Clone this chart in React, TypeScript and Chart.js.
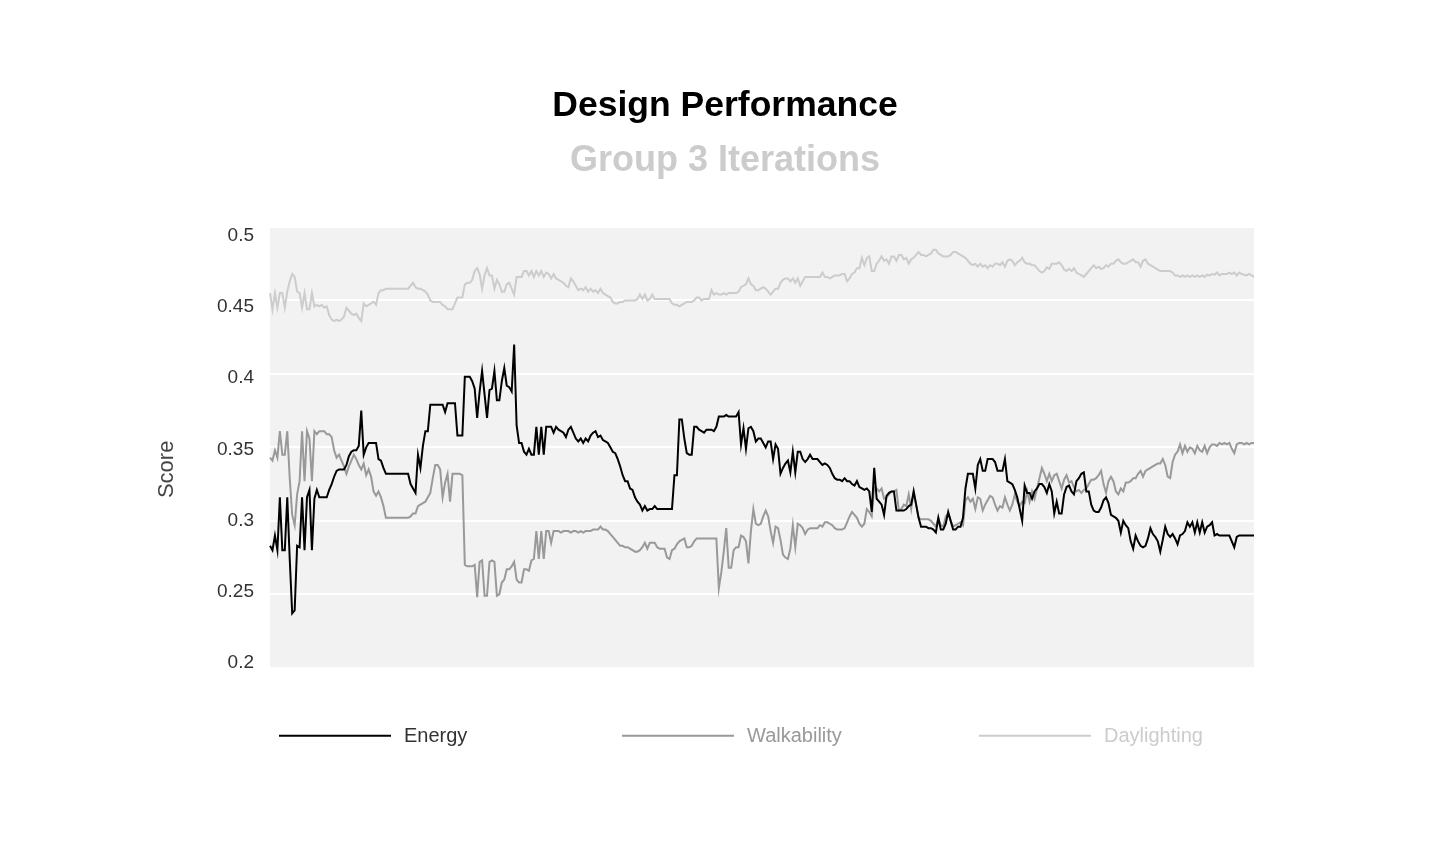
import { useEffect, useRef } from "react";
import { Chart, registerables } from "chart.js";

Chart.register(...registerables);

const chartTitle = "Design Performance";
const chartSubtitle = "Group 3 Iterations";
const yAxisTitle = "Score";
const seriesNames = ["Energy", "Walkability", "Daylighting"];

const energy = [
  0.283, 0.280, 0.290, 0.280, 0.316, 0.280, 0.280, 0.316, 0.274, 0.237,
  0.239, 0.283, 0.282, 0.316, 0.280, 0.316, 0.321, 0.280, 0.315, 0.321,
  0.316, 0.316, 0.316, 0.316, 0.321, 0.325, 0.330, 0.334, 0.335, 0.335,
  0.335, 0.338, 0.344, 0.347, 0.348, 0.348, 0.351, 0.375, 0.345, 0.350,
  0.353, 0.353, 0.353, 0.353, 0.342, 0.341, 0.336, 0.332, 0.332, 0.332,
  0.332, 0.332, 0.332, 0.332, 0.332, 0.332, 0.332, 0.325, 0.322, 0.319,
  0.345, 0.336, 0.351, 0.361, 0.361, 0.379, 0.379, 0.379, 0.379, 0.379,
  0.379, 0.374, 0.380, 0.380, 0.380, 0.380, 0.358, 0.358, 0.358, 0.398,
  0.398, 0.398, 0.395, 0.390, 0.370, 0.388, 0.402, 0.386, 0.370, 0.389,
  0.390, 0.402, 0.382, 0.382, 0.395, 0.404, 0.392, 0.391, 0.388, 0.420,
  0.365, 0.353, 0.353, 0.347, 0.345, 0.349, 0.345, 0.345, 0.364, 0.345,
  0.364, 0.345, 0.364, 0.364, 0.364, 0.360, 0.364, 0.362, 0.361, 0.360,
  0.357, 0.362, 0.364, 0.360, 0.356, 0.354, 0.356, 0.353, 0.356, 0.354,
  0.358, 0.360, 0.361, 0.357, 0.358, 0.355, 0.354, 0.353, 0.350, 0.347,
  0.346, 0.342, 0.337, 0.331, 0.327, 0.327, 0.322, 0.321, 0.316, 0.313,
  0.311, 0.307, 0.310, 0.307, 0.308, 0.308, 0.310, 0.308, 0.308, 0.308,
  0.308, 0.308, 0.308, 0.308, 0.331, 0.331, 0.369, 0.369, 0.356, 0.346,
  0.345, 0.345, 0.364, 0.364, 0.362, 0.361, 0.360, 0.362, 0.362, 0.362,
  0.361, 0.364, 0.371, 0.371, 0.371, 0.372, 0.371, 0.371, 0.371, 0.371,
  0.374, 0.352, 0.363, 0.349, 0.363, 0.364, 0.361, 0.354, 0.356, 0.356,
  0.353, 0.350, 0.354, 0.354, 0.342, 0.352, 0.349, 0.332, 0.336, 0.339,
  0.341, 0.333, 0.347, 0.333, 0.347, 0.347, 0.342, 0.340, 0.342, 0.345,
  0.342, 0.342, 0.342, 0.340, 0.338, 0.339, 0.338, 0.336, 0.332, 0.329,
  0.328, 0.328, 0.327, 0.329, 0.327, 0.327, 0.325, 0.324, 0.327, 0.323,
  0.322, 0.321, 0.322, 0.320, 0.306, 0.336, 0.315, 0.313, 0.311, 0.304,
  0.317, 0.319, 0.320, 0.320, 0.307, 0.307, 0.307, 0.307, 0.308, 0.310,
  0.311, 0.320, 0.311, 0.302, 0.296, 0.296, 0.296, 0.295, 0.295, 0.294,
  0.292, 0.302, 0.294, 0.294, 0.298, 0.306, 0.300, 0.294, 0.294, 0.296,
  0.296, 0.302, 0.322, 0.332, 0.332, 0.332, 0.322, 0.338, 0.342, 0.334,
  0.334, 0.342, 0.342, 0.342, 0.340, 0.334, 0.334, 0.334, 0.342, 0.327,
  0.326, 0.325, 0.321, 0.316, 0.308, 0.300, 0.324, 0.319, 0.319, 0.315,
  0.320, 0.322, 0.325, 0.325, 0.323, 0.319, 0.325, 0.320, 0.305, 0.313,
  0.305, 0.305, 0.318, 0.323, 0.324, 0.320, 0.318, 0.327, 0.329, 0.332,
  0.333, 0.320, 0.320, 0.311, 0.307, 0.306, 0.306, 0.309, 0.314, 0.316,
  0.312, 0.304, 0.303, 0.302, 0.300, 0.292, 0.300, 0.297, 0.295, 0.286,
  0.281, 0.290, 0.286, 0.283, 0.282, 0.283, 0.288, 0.295, 0.291, 0.289,
  0.286, 0.279, 0.287, 0.296, 0.291, 0.289, 0.291, 0.288, 0.284, 0.290,
  0.291, 0.293, 0.299, 0.296, 0.299, 0.292, 0.299, 0.292, 0.299, 0.292,
  0.296, 0.297, 0.299, 0.290, 0.291, 0.290, 0.290, 0.290, 0.290, 0.290,
  0.286, 0.282, 0.289, 0.290, 0.290, 0.290, 0.290, 0.290, 0.290, 0.290,
];

const walkability = [
  0.343, 0.341, 0.348, 0.343, 0.361, 0.345, 0.345, 0.361, 0.329, 0.304,
  0.297, 0.318, 0.327, 0.361, 0.327, 0.361, 0.356, 0.327, 0.361, 0.359,
  0.361, 0.361, 0.361, 0.359, 0.359, 0.357, 0.348, 0.343, 0.345, 0.341,
  0.337, 0.332, 0.337, 0.341, 0.345, 0.342, 0.338, 0.335, 0.339, 0.331,
  0.335, 0.330, 0.320, 0.317, 0.320, 0.316, 0.310, 0.302, 0.302, 0.302,
  0.302, 0.302, 0.302, 0.302, 0.302, 0.302, 0.302, 0.303, 0.305, 0.305,
  0.310, 0.311, 0.312, 0.313, 0.316, 0.319, 0.329, 0.338, 0.338, 0.335,
  0.316, 0.326, 0.332, 0.313, 0.332, 0.332, 0.332, 0.332, 0.331, 0.270,
  0.269, 0.269, 0.269, 0.270, 0.248, 0.272, 0.273, 0.249, 0.249, 0.272,
  0.273, 0.272, 0.249, 0.250, 0.258, 0.260, 0.267, 0.267, 0.269, 0.272,
  0.260, 0.258, 0.258, 0.267, 0.267, 0.266, 0.273, 0.274, 0.293, 0.274,
  0.293, 0.274, 0.293, 0.293, 0.285, 0.293, 0.293, 0.293, 0.292, 0.293,
  0.293, 0.293, 0.292, 0.293, 0.293, 0.292, 0.293, 0.292, 0.293, 0.293,
  0.293, 0.294, 0.294, 0.294, 0.296, 0.294, 0.294, 0.293, 0.291, 0.289,
  0.287, 0.285, 0.283, 0.283, 0.282, 0.282, 0.281, 0.280, 0.279, 0.279,
  0.280, 0.282, 0.285, 0.281, 0.285, 0.285, 0.285, 0.282, 0.281, 0.281,
  0.281, 0.275, 0.274, 0.280, 0.281, 0.284, 0.286, 0.287, 0.288, 0.282,
  0.282, 0.283, 0.286, 0.288, 0.288, 0.288, 0.288, 0.288, 0.288, 0.288,
  0.288, 0.288, 0.254, 0.265, 0.279, 0.295, 0.268, 0.268, 0.280, 0.282,
  0.282, 0.290, 0.289, 0.286, 0.271, 0.293, 0.308, 0.298, 0.297, 0.298,
  0.303, 0.307, 0.303, 0.293, 0.285, 0.296, 0.295, 0.287, 0.277, 0.275,
  0.274, 0.281, 0.297, 0.282, 0.298, 0.297, 0.295, 0.291, 0.294, 0.295,
  0.295, 0.295, 0.295, 0.297, 0.296, 0.299, 0.299, 0.298, 0.297, 0.295,
  0.294, 0.294, 0.294, 0.295, 0.299, 0.303, 0.306, 0.304, 0.302, 0.298,
  0.296, 0.298, 0.308, 0.306, 0.303, 0.323, 0.322, 0.320, 0.322, 0.315,
  0.316, 0.318, 0.320, 0.320, 0.321, 0.307, 0.308, 0.311, 0.310, 0.318,
  0.308, 0.320, 0.311, 0.302, 0.301, 0.301, 0.301, 0.301, 0.300, 0.298,
  0.296, 0.302, 0.297, 0.296, 0.303, 0.305, 0.300, 0.296, 0.297, 0.298,
  0.299, 0.297, 0.314, 0.316, 0.313, 0.315, 0.308, 0.316, 0.315, 0.307,
  0.311, 0.314, 0.317, 0.316, 0.311, 0.307, 0.310, 0.309, 0.316, 0.311,
  0.307, 0.311, 0.318, 0.313, 0.310, 0.313, 0.312, 0.320, 0.313, 0.320,
  0.315, 0.322, 0.329, 0.336, 0.332, 0.327, 0.332, 0.327, 0.331, 0.332,
  0.327, 0.322, 0.328, 0.331, 0.326, 0.327, 0.323, 0.320, 0.321, 0.319,
  0.321, 0.322, 0.325, 0.328, 0.328, 0.329, 0.331, 0.334, 0.325, 0.319,
  0.327, 0.330, 0.327, 0.320, 0.318, 0.322, 0.320, 0.326, 0.326, 0.327,
  0.329, 0.329, 0.332, 0.334, 0.330, 0.334, 0.335, 0.336, 0.337, 0.338,
  0.339, 0.339, 0.342, 0.338, 0.330, 0.329, 0.340, 0.345, 0.347, 0.352,
  0.346, 0.351, 0.347, 0.350, 0.349, 0.346, 0.351, 0.348, 0.347, 0.351,
  0.346, 0.350, 0.352, 0.352, 0.351, 0.353, 0.352, 0.353, 0.352, 0.353,
  0.349, 0.346, 0.352, 0.353, 0.353, 0.352, 0.353, 0.352, 0.353, 0.353,
];

const daylighting = [
  0.455, 0.444, 0.455, 0.445, 0.455, 0.455, 0.445, 0.456, 0.463, 0.468,
  0.466, 0.456, 0.455, 0.445, 0.455, 0.444, 0.444, 0.455, 0.446, 0.447,
  0.446, 0.447, 0.445, 0.446, 0.440, 0.437, 0.436, 0.437, 0.436, 0.437,
  0.439, 0.445, 0.443, 0.441, 0.440, 0.441, 0.438, 0.436, 0.448, 0.446,
  0.447, 0.448, 0.449, 0.447, 0.455, 0.457, 0.457, 0.458, 0.458, 0.458,
  0.458, 0.458, 0.458, 0.458, 0.458, 0.458, 0.458, 0.460, 0.462, 0.459,
  0.458, 0.458, 0.457, 0.456, 0.454, 0.450, 0.449, 0.449, 0.449, 0.449,
  0.447, 0.446, 0.444, 0.444, 0.444, 0.448, 0.452, 0.452, 0.452, 0.461,
  0.462, 0.462, 0.464, 0.470, 0.472, 0.468, 0.458, 0.467, 0.472, 0.467,
  0.467, 0.458, 0.464, 0.461, 0.456, 0.456, 0.461, 0.462, 0.458, 0.454,
  0.466, 0.466, 0.466, 0.470, 0.470, 0.467, 0.470, 0.466, 0.470, 0.467,
  0.470, 0.466, 0.469, 0.468, 0.465, 0.468, 0.465, 0.464, 0.463, 0.462,
  0.460, 0.459, 0.465, 0.463, 0.460, 0.457, 0.458, 0.457, 0.459, 0.456,
  0.458, 0.456, 0.457, 0.455, 0.458, 0.455, 0.454, 0.453, 0.452, 0.449,
  0.448, 0.448, 0.449, 0.449, 0.450, 0.450, 0.450, 0.450, 0.450, 0.451,
  0.454, 0.451, 0.454, 0.450, 0.451, 0.454, 0.451, 0.451, 0.451, 0.451,
  0.451, 0.451, 0.451, 0.448, 0.447, 0.447, 0.446, 0.447, 0.448, 0.449,
  0.449, 0.449, 0.450, 0.452, 0.452, 0.450, 0.451, 0.451, 0.451, 0.457,
  0.454, 0.455, 0.454, 0.454, 0.455, 0.454, 0.455, 0.455, 0.455, 0.455,
  0.456, 0.459, 0.460, 0.461, 0.465, 0.461, 0.460, 0.457, 0.457, 0.458,
  0.459, 0.458, 0.456, 0.454, 0.456, 0.458, 0.458, 0.462, 0.464, 0.465,
  0.465, 0.463, 0.465, 0.462, 0.465, 0.460, 0.463, 0.466, 0.466, 0.466,
  0.466, 0.466, 0.466, 0.466, 0.469, 0.466, 0.466, 0.465, 0.466, 0.467,
  0.467, 0.467, 0.468, 0.468, 0.463, 0.465, 0.468, 0.469, 0.472, 0.472,
  0.479, 0.474, 0.479, 0.480, 0.470, 0.470, 0.475, 0.477, 0.480, 0.477,
  0.478, 0.475, 0.480, 0.480, 0.477, 0.481, 0.481, 0.478, 0.479, 0.475,
  0.478, 0.479, 0.481, 0.483, 0.481, 0.481, 0.480, 0.481, 0.482, 0.4845,
  0.4845, 0.482, 0.481, 0.480, 0.480, 0.480, 0.481, 0.483, 0.483, 0.482,
  0.481, 0.480, 0.479, 0.477, 0.475, 0.474, 0.475, 0.473, 0.475, 0.473,
  0.474, 0.472, 0.474, 0.473, 0.475, 0.475, 0.474, 0.476, 0.473, 0.477,
  0.478, 0.477, 0.474, 0.476, 0.477, 0.479, 0.476, 0.475, 0.475, 0.474,
  0.474, 0.472, 0.470, 0.469, 0.470, 0.4725, 0.4715, 0.475, 0.475, 0.475,
  0.476, 0.474, 0.471, 0.470, 0.4715, 0.470, 0.472, 0.469, 0.468, 0.467,
  0.466, 0.468, 0.470, 0.472, 0.474, 0.472, 0.473, 0.4715, 0.472, 0.474,
  0.473, 0.475, 0.475, 0.477, 0.478, 0.476, 0.475, 0.475, 0.476, 0.477,
  0.478, 0.476, 0.476, 0.473, 0.477, 0.478, 0.475, 0.474, 0.473, 0.472,
  0.471, 0.470, 0.470, 0.470, 0.470, 0.470, 0.469, 0.467, 0.467, 0.466,
  0.467, 0.466, 0.467, 0.466, 0.467, 0.466, 0.467, 0.466, 0.467, 0.466,
  0.4675, 0.467, 0.468, 0.4675, 0.469, 0.467, 0.468, 0.468, 0.468, 0.469,
  0.468, 0.469, 0.467, 0.469, 0.468, 0.4675, 0.467, 0.468, 0.467, 0.466,
];

const iterations = energy.map((_, i) => String(i + 1));
const yTicks = [0.2, 0.25, 0.3, 0.35, 0.4, 0.45, 0.5];
const yTickLabels = ["0.2", "0.25", "0.3", "0.35", "0.4", "0.45", "0.5"];

const FONT = "'Liberation Sans', Arial, Helvetica, sans-serif";
const lineColors = ["#000000", "#999999", "#cccccc"];
const legendTextColors = ["#333333", "#999999", "#cccccc"];

const plotBackground = {
  id: "plotBackground",
  beforeDraw(chart: any) {
    const { ctx, chartArea: a } = chart;
    ctx.save();
    ctx.fillStyle = "#f2f2f2";
    ctx.fillRect(a.left, a.top, a.right - a.left, a.bottom - a.top);
    ctx.restore();
    // tick labels in the reference sit a little inside the plot band
    const ys = chart.scales.y;
    if (ys && ys.getLabelItems) {
      const items = ys.getLabelItems();
      const inset = 6.5;
      items.forEach((it: any, i: number) => {
        const v = yTicks[i];
        if (v === undefined || !it.options || !it.options.translation) return;
        const frac = (0.5 - v) / 0.3;
        it.options.translation[1] = a.top + 2 + inset + (a.bottom - a.top - 2 * inset) * frac;
      });
    }
  },
};

const columnLegend = {
  id: "columnLegend",
  afterDraw(chart: any) {
    const { ctx, chartArea: a, width } = chart;
    const y = a.bottom + 68;
    const colW = 359;
    const mid = width / 2 + 12;
    const sampleW = 112;
    const gap = 13;
    ctx.save();
    ctx.font = `20px ${FONT}`;
    ctx.textBaseline = "middle";
    ctx.textAlign = "left";
    chart.data.datasets.forEach((ds: any, k: number) => {
      const tw = ctx.measureText(ds.label).width;
      const itemW = sampleW + gap + tw;
      const x0 = Math.round(mid + (k - 1) * colW - itemW / 2);
      ctx.strokeStyle = ds.borderColor;
      ctx.lineWidth = 2;
      ctx.beginPath();
      ctx.moveTo(x0, y);
      ctx.lineTo(x0 + sampleW, y);
      ctx.stroke();
      ctx.fillStyle = legendTextColors[k];
      ctx.fillText(ds.label, x0 + sampleW + gap, y + 1);
    });
    ctx.restore();

    ctx.save();
    ctx.translate(a.left - 103.5, (a.top + a.bottom) / 2 + 22);
    ctx.rotate(-Math.PI / 2);
    ctx.textAlign = "center";
    ctx.textBaseline = "middle";
    ctx.font = `22px ${FONT}`;
    ctx.fillStyle = "#444444";
    ctx.fillText(yAxisTitle, 0, 0);
    ctx.restore();
  },
};

export default function App() {
  const canvasRef = useRef<HTMLCanvasElement | null>(null);

  useEffect(() => {
    if (!canvasRef.current) return;
    const seriesData = [energy, walkability, daylighting];
    const chart = new Chart(canvasRef.current, {
      type: "line",
      data: {
        labels: iterations,
        datasets: seriesNames.map((name, k) => ({
          label: name,
          data: seriesData[k],
          borderColor: lineColors[k],
          backgroundColor: lineColors[k],
          borderWidth: 2,
          pointRadius: 0,
          pointHoverRadius: 0,
          tension: 0,
          fill: false,
        })),
      },
      options: {
        animation: false,
        responsive: true,
        maintainAspectRatio: false,
        layout: {
          padding: { top: 77.4, left: 188, right: 178, bottom: 170.3 },
        },
        plugins: {
          legend: { display: false },
          tooltip: { enabled: false },
          title: {
            display: true,
            text: chartTitle,
            color: "#000000",
            font: { family: FONT, size: 35.5, weight: "bold" },
            padding: { top: 0, bottom: 0 },
          },
          subtitle: {
            display: true,
            text: chartSubtitle,
            color: "#cccccc",
            font: { family: FONT, size: 36, weight: "bold" },
            padding: { top: 11.1, bottom: 44.7 },
          },
        },
        scales: {
          x: {
            type: "category",
            display: false,
            offset: false,
          },
          y: {
            type: "linear",
            min: 0.2,
            max: 0.5,
            afterBuildTicks: (scale: any) => {
              scale.ticks = yTicks.map((v) => ({ value: v }));
            },
            afterFit: (scale: any) => {
              scale.width = 74;
            },
            ticks: {
              color: "#333333",
              font: { family: FONT, size: 19 },
              padding: 16,
              callback: (_v: any, i: number) => yTickLabels[i],
            },
            grid: {
              color: "#ffffff",
              lineWidth: 2,
              drawTicks: false,
            },
            border: { display: false },
          },
        },
      },
      plugins: [plotBackground, columnLegend],
    });
    return () => chart.destroy();
  }, []);

  return (
    <div style={{ width: "1424px", height: "830px", position: "relative" }}>
      <canvas ref={canvasRef} />
    </div>
  );
}
